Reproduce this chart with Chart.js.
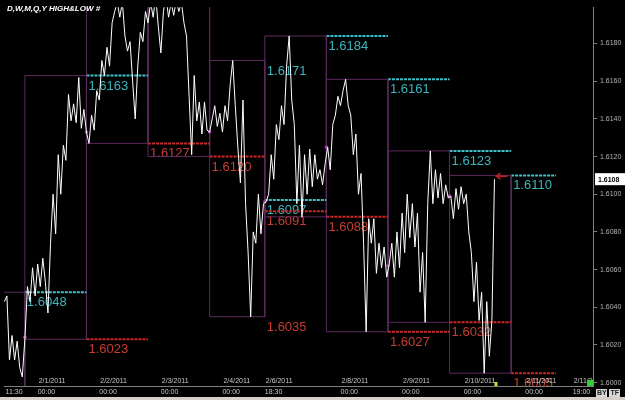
<!DOCTYPE html>
<html>
<head>
<meta charset="utf-8">
<script src="https://cdn.jsdelivr.net/npm/chart.js@4.4.1/dist/chart.umd.min.js"></script>
<style>
  html, body { margin: 0; padding: 0; background: #000; }
  #wrap { width: 625px; height: 400px; }
</style>
</head>
<body>
<div id="wrap"><canvas id="fxChart" width="625" height="400"></canvas></div>
<script>
// hourly closes, t in trading hours from the 2/1 session open (19:00)
const barStart = -8;
const barStep = 1;
const closes = [
  1.6043, 1.6046, 1.6012, 1.6025, 1.6012, 1.6022, 1.6008, 1.6003, 1.6023, 1.6051, 1.6043, 1.6061,
  1.6046, 1.6063, 1.6051, 1.6066, 1.6053, 1.6037, 1.6074, 1.6100, 1.6079, 1.6121, 1.6100, 1.6126,
  1.6118, 1.6153, 1.6139, 1.6148, 1.6138, 1.6162, 1.6135, 1.6145, 1.6133, 1.6127, 1.6142, 1.6134,
  1.6155, 1.6150, 1.6171, 1.6163, 1.6178, 1.6168, 1.6191, 1.6197, 1.6202, 1.6194, 1.6202, 1.6184,
  1.6176, 1.6181, 1.6160, 1.6140, 1.6168, 1.6186, 1.6181, 1.6197, 1.6191, 1.6202, 1.6194, 1.6205,
  1.6189, 1.6175, 1.6197, 1.6205, 1.6194, 1.6202, 1.6195, 1.6203, 1.6197, 1.6202, 1.6191, 1.6184,
  1.6152, 1.6121, 1.6163, 1.6139, 1.6149, 1.6132, 1.6149, 1.6134, 1.6133, 1.6140, 1.6147, 1.6136,
  1.6143, 1.6133, 1.6147, 1.6139, 1.6158, 1.6171, 1.6147, 1.6125, 1.6106, 1.6150, 1.6095, 1.6069,
  1.6035, 1.6080, 1.6074, 1.6100, 1.6079, 1.6095, 1.6096, 1.6100, 1.6121, 1.6108, 1.6137, 1.6129,
  1.6147, 1.6137, 1.6168, 1.6184, 1.6150, 1.6137, 1.6095, 1.6126, 1.6088, 1.6121, 1.6100, 1.6124,
  1.6104, 1.6121, 1.6108, 1.6113, 1.6105, 1.6116, 1.6125, 1.6113, 1.6137, 1.6142, 1.6152, 1.6147,
  1.6155, 1.6161, 1.6147, 1.6142, 1.6121, 1.6132, 1.6100, 1.6111, 1.6074, 1.6027, 1.6087, 1.6074,
  1.6087, 1.6058, 1.6074, 1.6061, 1.6072, 1.6056, 1.6063, 1.6074, 1.6056, 1.6080, 1.6061, 1.6090,
  1.6069, 1.6100, 1.6077, 1.6095, 1.6072, 1.6090, 1.6048, 1.6069, 1.6032, 1.6095, 1.6123, 1.6095,
  1.6113, 1.6098, 1.6111, 1.6095, 1.6105, 1.6098, 1.6099, 1.6087, 1.6103, 1.6092, 1.6104, 1.6095,
  1.6100, 1.6080, 1.6069, 1.6043, 1.6064, 1.6033, 1.6048, 1.6005, 1.6043, 1.6014, 1.6033, 1.6108
];

// daily sessions (high / low boxes)
const sessionDay   = ['1/31', '2/1', '2/2', '2/3', '2/4', '2/5', '2/7', '2/8', '2/9', '2/10', '2/11'];
const sessionStart = [-24, 0, 24, 48, 72, 93.5, 93.5, 117.5, 141.5, 165.5, 189.5];
const sessionEnd   = [0, 24, 48, 72, 93.5, 93.5, 117.5, 141.5, 165.5, 189.5, 207];
const sessionHigh  = [1.6048, 1.6163, 1.6215, 1.6212, 1.6171, 1.6097, 1.6184, 1.6161, 1.6123, 1.6110, null];
const sessionLow   = [1.5990, 1.6023, 1.6127, 1.6120, 1.6035, 1.6091, 1.6088, 1.6027, 1.6032, 1.6005, null];
const sessionOpen  = [null, 1.6024, 1.6133, null, 1.6133, null, 1.6096, 1.6125, 1.6062, 1.6099, null];

// time axis
const tickT    = [-7.5, 5, 29, 53, 77, 93.5, 123, 147, 171, 195, 213.5];
const tickTime = ['11:30', '00:00', '00:00', '00:00', '00:00', '18:30', '00:00', '00:00', '00:00', '00:00', '19:00'];
const tickDate = ['', '2/1/2011', '2/2/2011', '2/3/2011', '2/4/2011', '2/6/2011', '2/8/2011', '2/9/2011', '2/10/2011', '2/11/2011', '2/11/2011'];

// price axis
const yTicks = [1.6000, 1.6020, 1.6040, 1.6060, 1.6080, 1.6100, 1.6120, 1.6140, 1.6160, 1.6180];
const lastPrice = 1.6108;

const PURPLE = '#5c2a5c';
const CYAN = '#40c0c8';
const RED = '#c82828';

Chart.defaults.font.family = "'Liberation Sans', Arial, sans-serif";

const datasets = [];
datasets.push({
  label: 'close',
  data: closes.map((c, i) => ({ x: barStart + i * barStep, y: c })),
  borderColor: '#ffffff',
  borderWidth: 1,
  pointRadius: 0,
  tension: 0
});

datasets.push({
  label: 'open',
  type: 'scatter',
  data: sessionOpen.map((o, k) => o == null ? null : { x: sessionStart[k], y: o }).filter(p => p),
  pointRadius: 1.8,
  pointBackgroundColor: '#9a3a9a',
  pointBorderWidth: 0
});

for (let k = 0; k < sessionDay.length; k++) {
  if (k > 0 && sessionHigh[k - 1] != null) {
    datasets.push({
      label: sessionDay[k] + ' hi',
      data: [{ x: sessionStart[k], y: sessionHigh[k - 1] }, { x: sessionEnd[k], y: sessionHigh[k - 1] }],
      borderColor: CYAN, borderWidth: 2, borderDash: [3, 1], pointRadius: 0
    });
    datasets.push({
      label: sessionDay[k] + ' lo',
      data: [{ x: sessionStart[k], y: sessionLow[k - 1] }, { x: sessionEnd[k], y: sessionLow[k - 1] }],
      borderColor: RED, borderWidth: 2, borderDash: [3, 1], pointRadius: 0
    });
  }
  if (sessionHigh[k] == null) continue;
  const s = sessionStart[k], e = sessionEnd[k];
  datasets.push({
    label: sessionDay[k] + ' box',
    data: [{ x: s, y: sessionLow[k] }, { x: s, y: sessionHigh[k] }, { x: e, y: sessionHigh[k] },
           { x: e, y: sessionLow[k] }, { x: s, y: sessionLow[k] }],
    borderColor: PURPLE, borderWidth: 1, pointRadius: 0
  });
}

const levelLabels = {
  id: 'levelLabels',
  beforeDatasetsDraw(chart) {
    const { ctx, chartArea: a, scales: { x, y } } = chart;
    ctx.save();
    ctx.beginPath();
    ctx.rect(a.left, a.top, a.right - a.left, a.bottom - a.top);
    ctx.clip();
    ctx.font = "13px 'Liberation Sans', Arial, sans-serif";
    ctx.textAlign = 'left';
    ctx.textBaseline = 'alphabetic';
    for (let k = 1; k < sessionDay.length; k++) {
      if (sessionHigh[k - 1] == null) continue;
      const px = x.getPixelForValue(sessionStart[k]) + 2;
      ctx.fillStyle = '#3cb4bc';
      ctx.fillText(sessionHigh[k - 1].toFixed(4), px, y.getPixelForValue(sessionHigh[k - 1]) + 14);
      ctx.fillStyle = '#c83c32';
      ctx.fillText(sessionLow[k - 1].toFixed(4), px, y.getPixelForValue(sessionLow[k - 1]) + 14);
    }
    // date row above the time axis
    ctx.font = "7px 'Liberation Sans', Arial, sans-serif";
    ctx.fillStyle = '#c8c8c8';
    tickT.forEach((t, i) => {
      if (tickDate[i]) ctx.fillText(tickDate[i], x.getPixelForValue(t) + 1, a.bottom - 3);
    });
    ctx.restore();
  },
  afterDraw(chart) {
    const { ctx, chartArea: a, scales: { x, y } } = chart;
    ctx.save();
    ctx.font = "italic bold 8px 'Liberation Sans', Arial, sans-serif";
    ctx.fillStyle = '#ffffff';
    ctx.textAlign = 'left';
    ctx.textBaseline = 'alphabetic';
    ctx.fillText('D,W,M,Q,Y HIGH&LOW #', 7, 11);

    // last bar marker: arrow at the last close, yellow tag on the time axis
    const lastT = barStart + (closes.length - 1) * barStep;
    const lx = x.getPixelForValue(lastT);
    const ly = y.getPixelForValue(lastPrice);
    ctx.strokeStyle = '#c02020';
    ctx.lineWidth = 1.5;
    ctx.beginPath();
    ctx.moveTo(lx + 13, ly - 3);
    ctx.lineTo(lx + 2, ly - 3);
    ctx.moveTo(lx + 6, ly - 6);
    ctx.lineTo(lx + 2, ly - 3);
    ctx.lineTo(lx + 6, ly);
    ctx.stroke();
    ctx.fillStyle = '#e0d040';
    ctx.fillRect(lx, a.bottom - 4, 3, 4);
    ctx.fillStyle = '#30d030';
    ctx.fillRect(a.right - 6, a.bottom - 6, 6, 6);

    // last price tag
    ctx.fillStyle = '#ffffff';
    ctx.fillRect(a.right + 2, ly - 6, 32, 12);
    ctx.fillStyle = '#000000';
    ctx.font = "bold 7px 'Liberation Sans', Arial, sans-serif";
    ctx.textBaseline = 'middle';
    ctx.fillText(lastPrice.toFixed(4), a.right + 5, ly + 0.5);

    // BY / TF buttons
    ctx.fillStyle = '#d8d8d8';
    ctx.fillRect(a.right + 3, 389, 11, 8);
    ctx.fillRect(a.right + 16, 389, 11, 8);
    ctx.fillStyle = '#202020';
    ctx.fillText('BY', a.right + 4, 393.5);
    ctx.fillText('TF', a.right + 17.5, 393.5);

    // scrollbar strip
    ctx.fillStyle = '#d4d0c8';
    ctx.fillRect(0, 397, 625, 3);
    ctx.restore();
  }
};

new Chart(document.getElementById('fxChart'), {
  type: 'line',
  data: { datasets },
  options: {
    responsive: false,
    animation: false,
    events: [],
    layout: { padding: 0 },
    plugins: { legend: { display: false }, tooltip: { enabled: false } },
    scales: {
      x: {
        type: 'linear',
        min: -8.13,
        max: 221.4,
        afterBuildTicks: s => { s.ticks = tickT.map(v => ({ value: v })); },
        afterFit: s => { s.height = 14; },
        grid: { display: false, drawTicks: false },
        border: { display: true, color: '#808080' },
        ticks: {
          autoSkip: false, maxRotation: 0, align: 'start', padding: 2,
          color: '#c8c8c8', font: { size: 7 },
          callback: (v, i) => tickTime[i]
        }
      },
      y: {
        position: 'right',
        min: 1.59982,
        max: 1.61993,
        afterBuildTicks: s => { s.ticks = yTicks.map(v => ({ value: v })); },
        afterFit: s => { s.width = 32; },
        grid: { drawOnChartArea: false, tickLength: 4, color: '#808080' },
        border: { color: '#808080' },
        ticks: { padding: 3, color: '#b4b4b4', font: { size: 7 }, callback: v => v.toFixed(4) }
      }
    }
  },
  plugins: [levelLabels]
});
</script>
</body>
</html>
